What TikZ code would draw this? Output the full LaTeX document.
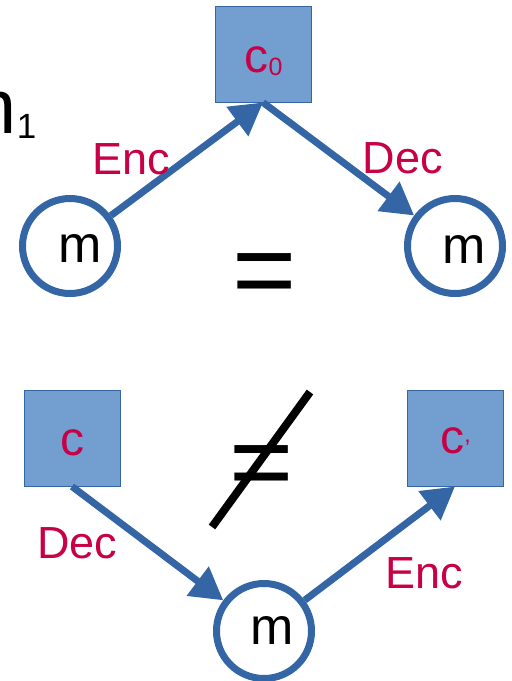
\documentclass[tikz,border=0pt]{standalone}
\usepackage{fontspec}
\setmainfont{Liberation Sans}
\usetikzlibrary{arrows.meta}
\definecolor{lineblue}{HTML}{3465A4}
\definecolor{fillblue}{HTML}{729FCF}
\definecolor{crimson}{RGB}{200,0,70}
\tikzset{
  msgnode/.style={circle, draw=lineblue, line width=7pt, minimum size=95pt, inner sep=0pt},
  ctbox/.style={rectangle, draw=lineblue, line width=1pt, fill=fillblue, minimum size=96pt, inner sep=0pt},
  conn/.style={lineblue, line width=7pt, -{Triangle[length=32pt,width=35pt]}},
  lbl/.style={text=crimson, font=\fontsize{45}{45}\selectfont, inner sep=0pt, anchor=base},
  mtext/.style={font=\fontsize{52}{52}\selectfont, inner sep=0pt},
  ctext/.style={text=crimson, font=\fontsize{48}{48}\selectfont, inner sep=0pt},
  eqtext/.style={font=\fontsize{110}{110}\selectfont, inner sep=0pt, anchor=base},
}
\begin{document}
\begin{tikzpicture}[x=1pt,y=-1pt]
\useasboundingbox (0,0) rectangle (512,681);
% top-left partial text
\node[anchor=base west, inner sep=0pt] (mone) at (-47.4,133) {{\fontsize{77}{77}\selectfont m}{\fontsize{35}{35}\selectfont\raisebox{-5pt}{1}}};
% top row
\node[ctbox] (c0) at (263,54) {};
\node[ctext] (c0t) at (263.5,61) {c\raisebox{-3pt}{\fontsize{25}{25}\selectfont 0}};
\node[msgnode] (mL) at (70,246) {};
\node[mtext] (mLt) at (80,249) {m};
\node[msgnode] (mR) at (455,246) {};
\node[mtext] (mRt) at (464.5,249.5) {m};
\node[eqtext] (eq) at (265,307) {=};
\draw[conn] (mL) -- (c0.south);
\draw[conn] (c0.south) -- (mR);
\node[lbl] (encT) at (131.5,174) {Enc};
\node[lbl] (decT) at (403,173) {Dec};
% bottom row
\node[ctbox] (c) at (72,438) {};
\node[ctext] (ct) at (72,442.5) {c};
\node[ctbox] (cp) at (455,438) {};
\node[ctext] (cpt) at (455.5,442.5) {c\raisebox{-3pt}{\fontsize{24}{24}\selectfont ’}};
\node[msgnode] (mB) at (264,631) {};
\node[mtext] (mBt) at (272.5,631) {m};
\node[eqtext] (neq) at (261.5,499) {=};
\coordinate (s1) at (212,527);
\coordinate (s2) at (310,392);
\draw[line width=8pt] (s1) -- (s2);
\draw[conn] (c.south) -- (mB);
\draw[conn] (mB) -- (cp.south);
\node[lbl] (decB) at (77.5,558) {Dec};
\node[lbl] (encB) at (424,588) {Enc};
\end{tikzpicture}
\end{document}
